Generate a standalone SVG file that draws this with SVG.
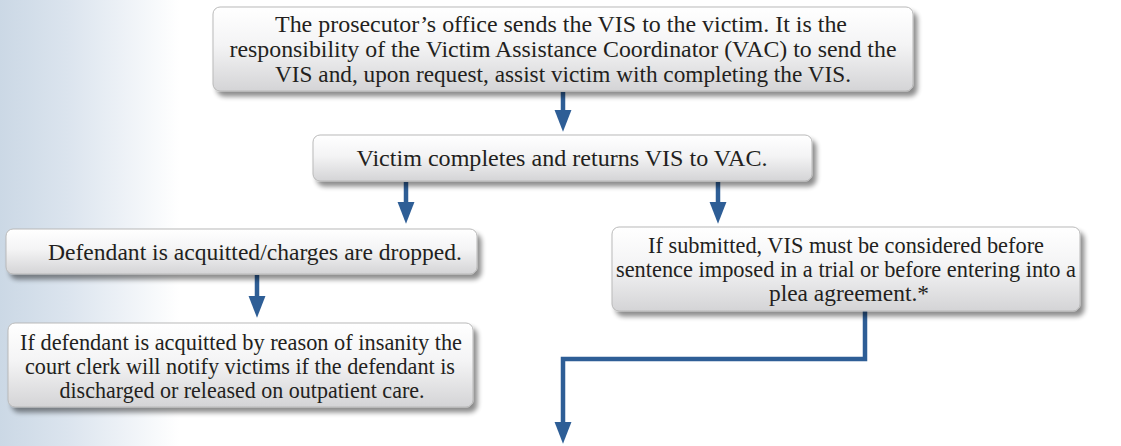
<svg xmlns="http://www.w3.org/2000/svg" width="1121" height="446" viewBox="0 0 1121 446">
<style>
.box{fill:url(#boxg);stroke:#b9b9b9;stroke-width:1;filter:url(#sh)}
.t{font-family:'Liberation Serif','Times New Roman',serif;font-size:23.5px;fill:#231f20;text-anchor:middle}
.c{fill:none;stroke:#2e5e96;stroke-width:4.5}
</style>
<defs>
<linearGradient id="bg" x1="0" y1="0" x2="1" y2="0">
<stop offset="0" stop-color="#cbd8e5"/>
<stop offset="0.06" stop-color="#dbe4ee"/>
<stop offset="0.16" stop-color="#ffffff"/>
<stop offset="1" stop-color="#ffffff"/>
</linearGradient>
<linearGradient id="boxg" x1="0" y1="0" x2="0" y2="1">
<stop offset="0" stop-color="#ffffff"/>
<stop offset="0.45" stop-color="#f4f4f5"/>
<stop offset="1" stop-color="#d4d4d6"/>
</linearGradient>
<filter id="sh" x="-5%" y="-20%" width="112%" height="150%">
<feGaussianBlur in="SourceAlpha" stdDeviation="2.5"/>
<feOffset dx="4" dy="5" result="b"/>
<feComponentTransfer><feFuncA type="linear" slope="0.45"/></feComponentTransfer>
<feMerge><feMergeNode/><feMergeNode in="SourceGraphic"/></feMerge>
</filter>
<marker id="ah" markerWidth="4.9" markerHeight="3.8" refX="0.5" refY="1.9" orient="auto" markerUnits="strokeWidth">
<path d="M0,0 L4.9,1.9 L0,3.8 Z" fill="#2e5e96"/>
</marker>
</defs>
<rect width="1121" height="446" fill="url(#bg)"/>

<g id="connectors">
<path class="c" d="M563,92 V112" marker-end="url(#ah)"/>
<path class="c" d="M406,182 V204" marker-end="url(#ah)"/>
<path class="c" d="M718,182 V204" marker-end="url(#ah)"/>
<path class="c" d="M257,275 V298" marker-end="url(#ah)"/>
<path class="c" d="M865,311 V359 H563 V424" marker-end="url(#ah)"/>
</g>

<g id="n1">
<rect class="box" x="213" y="7" width="700" height="84" rx="7"/>
<text class="t" x="561" y="32" textLength="572" lengthAdjust="spacingAndGlyphs">The prosecutor’s office sends the VIS to the victim. It is the</text>
<text class="t" x="563" y="57" textLength="667" lengthAdjust="spacingAndGlyphs">responsibility of the Victim Assistance Coordinator (VAC) to send the</text>
<text class="t" x="563" y="82" textLength="576" lengthAdjust="spacingAndGlyphs">VIS and, upon request, assist victim with completing the VIS.</text>
</g>
<g id="n2">
<rect class="box" x="313" y="135" width="499" height="46" rx="7"/>
<text class="t" x="562" y="166" textLength="411" lengthAdjust="spacingAndGlyphs">Victim completes and returns VIS to VAC.</text>
</g>
<g id="n3">
<rect class="box" x="6" y="229" width="471" height="45" rx="7"/>
<text class="t" x="255" y="260" textLength="414" lengthAdjust="spacingAndGlyphs">Defendant is acquitted/charges are dropped.</text>
</g>
<g id="n4">
<rect class="box" x="8" y="323" width="465" height="84" rx="7"/>
<text class="t" x="241" y="350" textLength="442" lengthAdjust="spacingAndGlyphs">If defendant is acquitted by reason of insanity the</text>
<text class="t" x="240" y="374" textLength="430" lengthAdjust="spacingAndGlyphs">court clerk will notify victims if the defendant is</text>
<text class="t" x="242" y="398" textLength="365" lengthAdjust="spacingAndGlyphs">discharged or released on outpatient care.</text>
</g>
<g id="n5">
<rect class="box" x="612" y="227" width="468" height="84" rx="7"/>
<text class="t" x="846" y="253" textLength="396" lengthAdjust="spacingAndGlyphs">If submitted, VIS must be considered before</text>
<text class="t" x="846" y="277" textLength="460" lengthAdjust="spacingAndGlyphs">sentence imposed in a trial or before entering into a</text>
<text class="t" x="849" y="301" textLength="160" lengthAdjust="spacingAndGlyphs">plea agreement.*</text>
</g>
</svg>
